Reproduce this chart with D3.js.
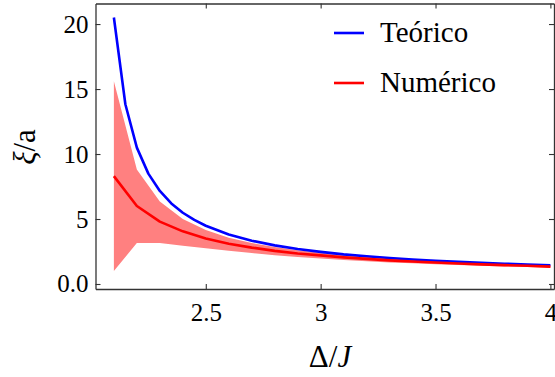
<!DOCTYPE html>
<html>
<head>
<meta charset="utf-8">
<script src="https://cdn.jsdelivr.net/npm/d3@7"></script>
<style>
  body { margin: 0; background: #fff; }
  svg { display: block; }
</style>
</head>
<body>
<div id="chart"></div>
<script>
// data ---------------------------------------------------
var theoX = [2.10, 2.15, 2.20, 2.25, 2.30, 2.35, 2.40, 2.45, 2.50, 2.60, 2.70, 2.80,
  2.90, 3.00, 3.10, 3.20, 3.30, 3.40, 3.50, 3.60, 3.70, 3.80, 3.90, 4.00];
var theoY = [20.50, 13.83, 10.49, 8.49, 7.16, 6.20, 5.48, 4.93, 4.48, 3.81, 3.33, 2.97,
  2.69, 2.47, 2.28, 2.13, 2.00, 1.88, 1.79, 1.70, 1.63, 1.56, 1.50, 1.44];

var numX = [2.1, 2.2, 2.3, 2.4, 2.5, 2.6, 2.7, 2.8, 2.9, 3.0,
  3.1, 3.2, 3.3, 3.4, 3.5, 3.6, 3.7, 3.8, 3.9, 4.0];
var numY = [8.3, 6.0, 4.8, 4.05, 3.5, 3.1, 2.8, 2.55, 2.35, 2.2,
  2.05, 1.93, 1.82, 1.73, 1.65, 1.58, 1.51, 1.45, 1.40, 1.34];
var numHigh = [15.6, 8.8, 6.35, 5.0, 4.15, 3.55, 3.15, 2.85, 2.6, 2.4,
  2.23, 2.1, 1.98, 1.87, 1.78, 1.70, 1.62, 1.56, 1.50, 1.44];
var numLow = [1.0, 3.15, 3.15, 2.95, 2.75, 2.55, 2.38, 2.22, 2.08, 1.96,
  1.85, 1.75, 1.66, 1.59, 1.52, 1.46, 1.40, 1.35, 1.30, 1.25];

var xTicks = [2.5, 3, 3.5, 4];
var xTickLabels = ['2.5', '3', '3.5', '4'];
var yTicks = [0, 5, 10, 15, 20];
var yTickLabels = ['0.0', '5', '10', '15', '20'];

var legendNames = ['Teórico', 'Numérico'];
var legendColors = ['#0000ff', '#ff0000'];

// sizes ---------------------------------------------------
var width = 555,
  height = 377;
var margin = { left: 95.5, top: 3.5, right: 1, bottom: 88 };
var innerW = width - margin.left - margin.right;
var innerH = height - margin.top - margin.bottom;
var tickLen = 5;
var serif = '"Liberation Serif", Tinos, "Times New Roman", "DejaVu Serif", serif';

var svg = d3.select('#chart').append('svg')
  .attr('width', width)
  .attr('height', height)
  .attr('font-family', serif);

var g = svg.append('g')
  .attr('transform', 'translate(' + margin.left + ',' + margin.top + ')');

var x = d3.scaleLinear().domain([2.02, 4.0157]).range([0, innerW]);
var y = d3.scaleLinear().domain([-0.385, 21.58]).range([innerH, 0]);

g.append('clipPath').attr('id', 'plotClip')
  .append('rect').attr('width', innerW).attr('height', innerH);

var plot = g.append('g').attr('clip-path', 'url(#plotClip)');

// band
var band = numX.map(function (d, i) { return { x: d, lo: numLow[i], hi: numHigh[i] }; });
plot.append('path')
  .datum(band)
  .attr('fill', '#ff8080')
  .attr('d', d3.area()
    .x(function (d) { return x(d.x); })
    .y0(function (d) { return y(d.lo); })
    .y1(function (d) { return y(d.hi); }));

var line = d3.line()
  .x(function (d) { return x(d[0]); })
  .y(function (d) { return y(d[1]); });

plot.append('path')
  .datum(theoX.map(function (d, i) { return [d, theoY[i]]; }))
  .attr('fill', 'none')
  .attr('stroke', legendColors[0])
  .attr('stroke-width', 2.6)
  .attr('stroke-linejoin', 'round')
  .attr('d', line);

plot.append('path')
  .datum(numX.map(function (d, i) { return [d, numY[i]]; }))
  .attr('fill', 'none')
  .attr('stroke', legendColors[1])
  .attr('stroke-width', 2.6)
  .attr('stroke-linejoin', 'round')
  .attr('d', line);

// frame with inward ticks
var frameColor = '#333';
var bottomAxis = d3.axisBottom(x).tickValues(xTicks)
  .tickFormat(function (d, i) { return xTickLabels[i]; })
  .tickSizeInner(-tickLen).tickSizeOuter(0).tickPadding(14);
var topAxis = d3.axisTop(x).tickValues(xTicks).tickFormat('')
  .tickSizeInner(-tickLen).tickSizeOuter(0);
var leftAxis = d3.axisLeft(y).tickValues(yTicks)
  .tickFormat(function (d, i) { return yTickLabels[i]; })
  .tickSizeInner(-tickLen).tickSizeOuter(0).tickPadding(7);
var rightAxis = d3.axisRight(y).tickValues(yTicks).tickFormat('')
  .tickSizeInner(-tickLen).tickSizeOuter(0);

var axes = [
  g.append('g').attr('transform', 'translate(0,' + innerH + ')').call(bottomAxis),
  g.append('g').call(topAxis),
  g.append('g').call(leftAxis),
  g.append('g').attr('transform', 'translate(' + innerW + ',0)').call(rightAxis)
];
axes.forEach(function (a) {
  a.attr('font-family', serif).attr('font-size', 25);
  a.select('.domain').attr('stroke', frameColor).attr('stroke-width', 1.3);
  a.selectAll('.tick line').attr('stroke', frameColor).attr('stroke-width', 1.1);
  a.selectAll('.tick text').attr('fill', '#000');
});

// legend
var legend = g.append('g').attr('transform', 'translate(' + (334 - margin.left) + ',' + (33 - margin.top) + ')');
legendNames.forEach(function (name, i) {
  var row = legend.append('g').attr('transform', 'translate(0,' + (i * 50) + ')');
  row.append('line')
    .attr('x1', 0).attr('x2', 30)
    .attr('stroke', legendColors[i])
    .attr('stroke-width', 2.6);
  row.append('text')
    .attr('x', 46)
    .attr('y', 9)
    .attr('font-size', 29)
    .text(name);
});

// axis titles
svg.append('text')
  .attr('transform', 'translate(35,147) rotate(-90)')
  .attr('text-anchor', 'middle')
  .attr('font-size', 31)
  .html('<tspan font-style="italic">ξ</tspan>/a');

svg.append('text')
  .attr('x', 330)
  .attr('y', 367)
  .attr('text-anchor', 'middle')
  .attr('font-size', 31)
  .html('Δ/<tspan font-style="italic">J</tspan>');
</script>
</body>
</html>
